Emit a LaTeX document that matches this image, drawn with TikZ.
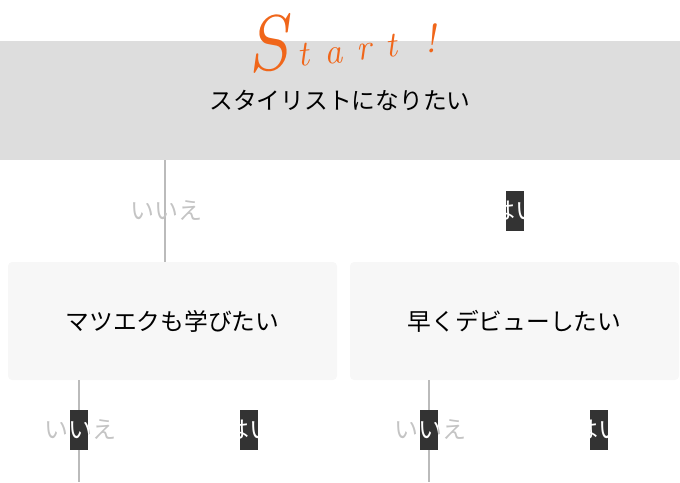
\documentclass[tikz,border=0pt]{standalone}
\usepackage{fontspec}
\newfontfamily\jpfont{Noto Sans CJK JP}
\usetikzlibrary{positioning}
\definecolor{startorange}{HTML}{F0661A}
\definecolor{bannergray}{HTML}{DDDDDD}
\definecolor{boxgray}{HTML}{F7F7F7}
\definecolor{linegray}{HTML}{BBBBBB}
\definecolor{nogray}{HTML}{C4C4C4}
\definecolor{tabdark}{HTML}{333333}
\tikzset{
  question/.style={rounded corners=3pt, inner sep=0pt, text=black, font=\jpfont\fontsize{17.8}{20}\selectfont},
  link/.style={draw=linegray, line width=1.2pt},
  answer/.style={inner sep=0pt, font=\jpfont\fontsize{18}{20}\selectfont},
  tab/.style={fill=tabdark, minimum width=13.5pt, minimum height=30pt, inner sep=0pt},
}

\begin{document}
\begin{tikzpicture}[x=0.75pt,y=-0.75pt]
\useasboundingbox (0,0) rectangle (680,482);
% Question boxes
\node[question, fill=bannergray, rounded corners=0pt, minimum width=510pt, minimum height=89.25pt] (q1) at (340,100.5) {スタイリストになりたい};
\node[question, fill=boxgray, minimum width=246.75pt, minimum height=88.5pt] (q2) at (172.5,321) {マツエクも学びたい};
\node[question, fill=boxgray, minimum width=246.75pt, minimum height=88.5pt] (q3) at (514.5,321) {早くデビューしたい};
% Start title
\node[text=startorange, font=\itshape, rotate=6, inner sep=0pt] (start) at (340,36)
  {{\fontsize{58}{58}\selectfont S}\hspace{6pt}{\fontsize{27}{27}\selectfont t\hspace{11pt}a\hspace{11pt}r\hspace{11pt}t}\hspace{20pt}{\fontsize{30}{30}\selectfont !}};
% Connectors
\coordinate (c1) at (165,0);
\coordinate (e2) at (79,482);
\coordinate (e3) at (429,482);
\draw[link] (q1.south -| c1) -- (q2.north -| c1);
\draw[link] (q2.south -| e2) -- (e2);
\draw[link] (q3.south -| e3) -- (e3);
% Answers
\node[answer, text=nogray] (no1) at (166.5,211) {いいえ};
\node[answer, text=nogray] (no2) at (80,430) {いいえ};
\node[answer, text=nogray] (no3) at (430,430) {いいえ};
% Dark tabs, white text clipped inside
\foreach \n/\x/\tx/\y/\t in {yes1/515/515/211/はい, tno2/79/80/430/いいえ, yes2/249/249/430/はい, tno3/428.5/430/430/いいえ, yes3/598.5/598.5/430/はい} {
  \node[tab] (\n) at (\x,\y) {};
  \begin{scope}
    \clip (\n.south west) rectangle (\n.north east);
    \node[answer, text=white] at (\tx,\y) {\t};
  \end{scope}
}
\end{tikzpicture}
\end{document}
